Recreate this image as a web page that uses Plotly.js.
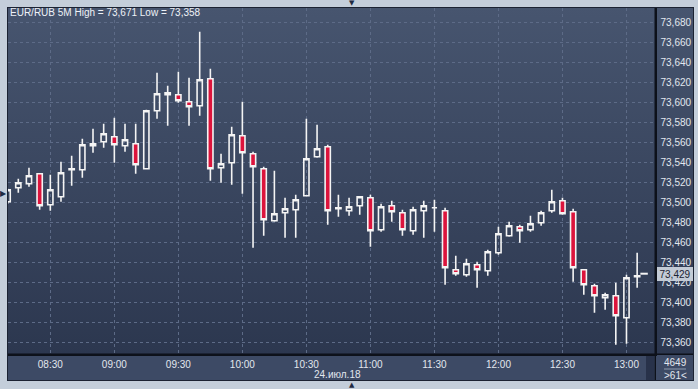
<!DOCTYPE html>
<html>
<head>
<meta charset="utf-8">
<script src="https://cdn.plot.ly/plotly-3.0.1.min.js"></script>
<style>
  html, body { margin: 0; padding: 0; background: #c4ceda; }
  #chart { width: 698px; height: 389px; }
</style>
</head>
<body>
<div id="chart"></div>
<script>
// ---- data ----
const DAY = '2018-07-24';
const times = ['08:10','08:15','08:20','08:25','08:30','08:35','08:40','08:45','08:50','08:55',
               '09:00','09:05','09:10','09:15','09:20','09:25','09:30','09:35','09:40','09:45',
               '09:50','09:55','10:00','10:05','10:10','10:15','10:20','10:25','10:30','10:35',
               '10:40','10:45','10:50','10:55','11:00','11:05','11:10','11:15','11:20','11:25',
               '11:30','11:35','11:40','11:45','11:50','11:55','12:00','12:05','12:10','12:15',
               '12:20','12:25','12:30','12:35','12:40','12:45','12:50','12:55','13:00','13:05'];
const openV  = [73.501,73.515,73.519,73.529,73.498,73.506,73.533,73.533,73.557,73.561,
                73.566,73.557,73.559,73.534,73.592,73.608,73.608,73.601,73.597,73.624,
                73.535,73.540,73.567,73.549,73.534,73.482,73.490,73.493,73.507,73.546,
                73.556,73.494,73.492,73.497,73.505,73.473,73.497,73.490,73.472,73.492,
                73.495,73.492,73.433,73.428,73.438,73.432,73.450,73.467,73.476,73.473,
                73.480,73.492,73.502,73.491,73.433,73.417,73.405,73.407,73.385,73.426];
const highV  = [73.514,73.524,73.535,73.529,73.528,73.541,73.547,73.564,73.574,73.579,
                73.585,73.579,73.579,73.593,73.630,73.617,73.631,73.625,73.671,73.634,
                73.549,73.576,73.601,73.551,73.536,73.532,73.505,73.508,73.584,73.578,
                73.558,73.508,73.505,73.506,73.508,73.499,73.502,73.493,73.496,73.502,
                73.503,73.495,73.447,73.444,73.441,73.453,73.476,73.481,73.478,73.487,
                73.492,73.513,73.505,73.494,73.433,73.419,73.410,73.420,73.428,73.450];
const lowV   = [73.499,73.510,73.516,73.493,73.492,73.501,73.517,73.525,73.550,73.555,
                73.540,73.551,73.529,73.534,73.584,73.577,73.600,73.577,73.587,73.522,
                73.520,73.518,73.509,73.455,73.467,73.481,73.465,73.465,73.507,73.545,
                73.478,73.486,73.487,73.488,73.456,73.471,73.481,73.467,73.468,73.465,
                73.471,73.418,73.427,73.426,73.415,73.427,73.448,73.466,73.460,73.471,
                73.477,73.490,73.488,73.421,73.408,73.390,73.393,73.358,73.359,73.415];
const closeV = [73.513,73.520,73.527,73.497,73.513,73.530,73.534,73.558,73.559,73.569,
                73.558,73.563,73.538,73.592,73.609,73.610,73.602,73.596,73.623,73.534,
                73.539,73.568,73.550,73.536,73.483,73.489,73.494,73.503,73.544,73.554,
                73.492,73.495,73.496,73.506,73.472,73.496,73.491,73.473,73.493,73.497,
                73.495,73.435,73.429,73.439,73.433,73.451,73.469,73.477,73.472,73.479,
                73.490,73.501,73.489,73.435,73.418,73.407,73.408,73.387,73.425,73.427];
const tickLabels = ['08:30','09:00','09:30','10:00','10:30','11:00','11:30','12:00','12:30','13:00'];
const lastPrice = 73.429;
const lastPriceSpan = ['13:06:30','13:10'];
const titleText = 'EUR/RUB 5M High = 73,671 Low = 73,358';
const dateLabel = '24.июл.18';
const volLabel = '4649';
const countLabel = '&gt;61&lt;';
const lastPriceLabel = '73,429';

// ---- drawing ----
const FONT = "'Liberation Sans Narrow', 'Arial Narrow', 'Liberation Sans', Arial, sans-serif";
const FS = 10;
const W = 698, H = 389, ML = 8, MR = 43, MT = 8, MB = 35;
const PW = W - ML - MR, PH = H - MT - MB;
const px = x => (x - ML) / PW;
const py = y => (H - MB - y) / PH;

const bgSvg =
  '<svg xmlns="http://www.w3.org/2000/svg" width="687" height="374" viewBox="0 0 687 374" preserveAspectRatio="none">' +
  '<defs><linearGradient id="g" x1="0" y1="0" x2="0" y2="1">' +
  '<stop offset="0" stop-color="#47556f"/><stop offset="1" stop-color="#2c374f"/></linearGradient></defs>' +
  '<rect x="0" y="0" width="687" height="347" fill="url(#g)"/>' +
  '<rect x="0" y="347" width="687" height="27" fill="#3d4a65"/>' +
  '<rect x="639" y="348" width="8" height="25" fill="#28324a"/>' +
  '<rect x="0" y="346.5" width="687" height="1.5" fill="#0d111a"/>' +
  '<rect x="647.5" y="0" width="1.5" height="374" fill="#0d111a"/>' +
  '<rect x="0.5" y="0.5" width="686" height="373" fill="none" stroke="#1b2232" stroke-width="1"/>' +
  '</svg>';
const bgSrc = 'data:image/svg+xml;charset=utf-8,' + encodeURIComponent(bgSvg);

const xs = times.map(t => DAY + ' ' + t);

const candles = {
  type: 'candlestick',
  x: xs, open: openV, high: highV, low: lowV, close: closeV,
  increasing: { line: { color: '#f4f4f4', width: 1.6 }, fillcolor: 'rgba(0,0,0,0)' },
  decreasing: { line: { color: '#f4f4f4', width: 1.6 }, fillcolor: '#dc143c' },
  whiskerwidth: 0,
  hoverinfo: 'skip'
};
const lastDash = {
  type: 'scatter', mode: 'lines',
  x: lastPriceSpan.map(t => DAY + ' ' + t),
  y: [lastPrice, lastPrice],
  line: { color: '#f4f4f4', width: 2 },
  hoverinfo: 'skip'
};

const layout = {
  width: W, height: H,
  margin: { l: ML, r: MR, t: MT, b: MB, pad: 0 },
  paper_bgcolor: '#c4ceda',
  plot_bgcolor: 'rgba(0,0,0,0)',
  separators: ', ',
  showlegend: false,
  font: { family: FONT, size: FS, color: '#e2e7ee' },
  title: {
    text: titleText, xref: 'container', yref: 'container',
    x: 10 / W, xanchor: 'left', y: 1 - 12 / H, yanchor: 'middle',
    font: { family: FONT, size: FS, color: '#eef2f7' }
  },
  xaxis: {
    type: 'date',
    range: [DAY + ' 08:10:10', DAY + ' 13:13:22'],
    tickvals: tickLabels.map(t => DAY + ' ' + t),
    ticktext: tickLabels,
    ticks: '',
    showgrid: true, gridcolor: '#5d6b87', gridwidth: 1, griddash: '3px,3px',
    showline: true, linecolor: '#0d111a', linewidth: 1.5,
    zeroline: false, fixedrange: true,
    rangeslider: { visible: false },
    tickfont: { family: FONT, size: FS, color: '#e2e7ee' }
  },
  yaxis: {
    side: 'right',
    range: [73.3487, 73.6947],
    tick0: 73.36, dtick: 0.02, tickformat: '.3f',
    ticks: '', ticklabelstandoff: 2,
    showgrid: true, gridcolor: '#5d6b87', gridwidth: 1, griddash: '3px,3px',
    showline: true, linecolor: '#0d111a', linewidth: 1.5,
    zeroline: false, fixedrange: true,
    tickfont: { family: FONT, size: FS, color: '#e2e7ee' }
  },
  images: [{
    source: bgSrc, xref: 'paper', yref: 'paper',
    x: px(7), y: py(7), xanchor: 'left', yanchor: 'top',
    sizex: 687 / PW, sizey: 374 / PH, sizing: 'stretch', layer: 'below'
  }],
  shapes: [
    { type: 'line', xref: 'paper', yref: 'paper', x0: px(664), x1: px(686), y0: py(369), y1: py(369),
      line: { color: '#8e9bb0', width: 1 } }
  ],
  annotations: [
    { text: dateLabel, xref: 'paper', yref: 'paper', x: px(338), y: py(374), xanchor: 'center', yanchor: 'middle',
      showarrow: false, font: { family: FONT, size: FS, color: '#e2e7ee' } },
    { text: volLabel, xref: 'paper', yref: 'paper', x: px(675), y: py(362), xanchor: 'center', yanchor: 'middle',
      showarrow: false, font: { family: FONT, size: FS, color: '#e2e7ee' } },
    { text: countLabel, xref: 'paper', yref: 'paper', x: px(675), y: py(375), xanchor: 'center', yanchor: 'middle',
      showarrow: false, font: { family: FONT, size: FS, color: '#e2e7ee' } },
    { text: lastPriceLabel, xref: 'paper', yref: 'y', x: px(657), y: lastPrice, xanchor: 'left', yanchor: 'middle',
      showarrow: false, bgcolor: '#c3cbd6', bordercolor: '#c3cbd6', borderpad: 0, width: 34, height: 12,
      font: { family: FONT, size: FS, color: '#1b2231' } },
    { text: '▼', xref: 'paper', yref: 'paper', x: px(352), y: py(3.5), xanchor: 'center', yanchor: 'middle',
      showarrow: false, font: { family: 'DejaVu Sans', size: 7, color: '#1f2a42' } },
    { text: '▲', xref: 'paper', yref: 'paper', x: px(352), y: py(384.5), xanchor: 'center', yanchor: 'middle',
      showarrow: false, font: { family: 'DejaVu Sans', size: 7, color: '#1f2a42' } },
    { text: '▶', xref: 'paper', yref: 'paper', x: px(3), y: py(193), xanchor: 'center', yanchor: 'middle',
      showarrow: false, font: { family: 'DejaVu Sans', size: 8, color: '#1f2a42' } }
  ]
};

Plotly.newPlot('chart', [candles, lastDash], layout, { staticPlot: true, displayModeBar: false });
</script>
</body>
</html>
